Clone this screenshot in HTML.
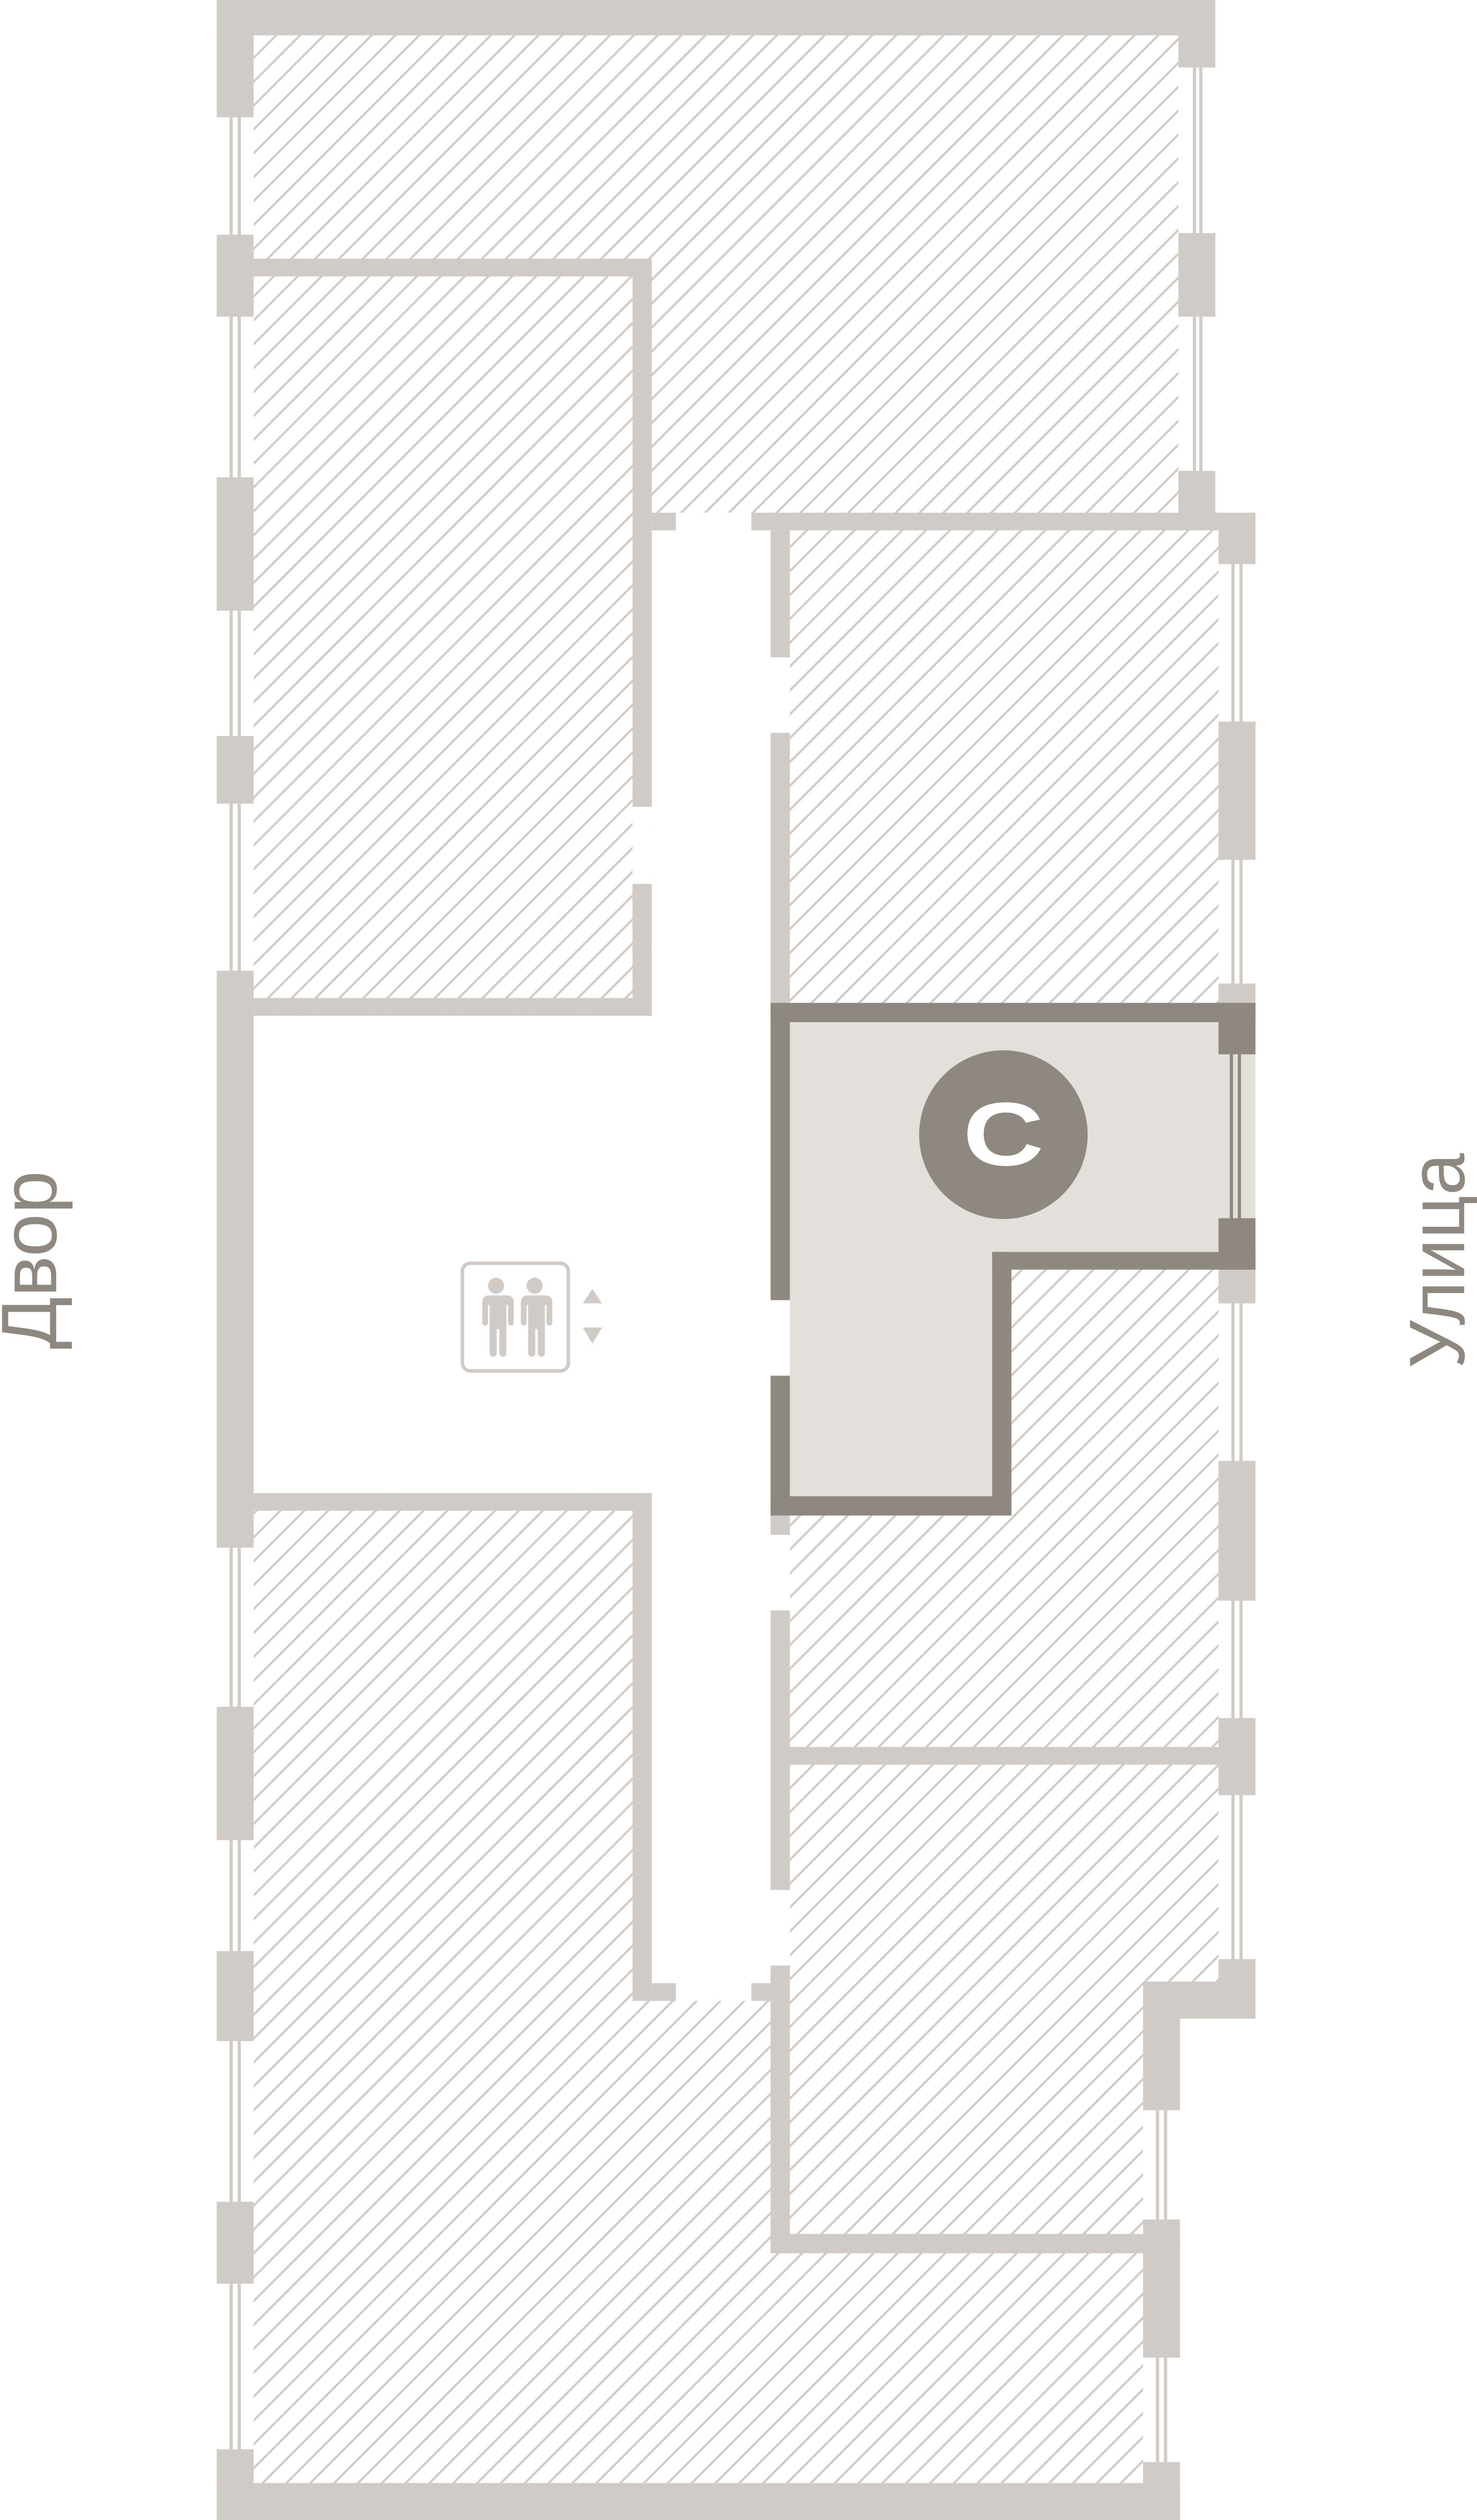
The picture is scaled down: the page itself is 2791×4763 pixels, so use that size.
<!DOCTYPE html>
<html><head><meta charset="utf-8"><style>html,body{margin:0;padding:0;background:#fff}svg{display:block}</style></head>
<body>
<svg xmlns="http://www.w3.org/2000/svg" width="2791" height="4763" viewBox="0 0 920 1568" preserveAspectRatio="none">
<defs>
<pattern id="h" patternUnits="userSpaceOnUse" width="10.5" height="10.5" patternTransform="rotate(45)">
<rect x="0" y="0" width="1.35" height="10.5" fill="#d0cbc6"/>
</pattern>
</defs>
<rect width="920" height="1568" fill="#fff"/>
<!-- hatch areas -->
<rect x="158" y="22" width="576" height="298" fill="url(#h)"/>
<rect x="158" y="320" width="601" height="913" fill="url(#h)"/>
<rect x="158" y="1233" width="554" height="312" fill="url(#h)"/>
<!-- white lobby & corridor -->
<rect x="158" y="632" width="334" height="297" fill="#fff"/>
<rect x="406" y="319" width="86" height="926" fill="#fff"/>
<rect x="421" y="319" width="47" height="11" fill="#fff"/>
<rect x="394" y="502" width="12" height="48" fill="#fff"/>
<!-- highlighted unit fill -->
<path d="M492 624 H782 V790 H630 V943 H492 Z" fill="#e3e0dc"/>
<g fill="#d0cbc6">
<!-- outer top -->
<rect x="135" y="0" width="622" height="22"/>
<rect x="734" y="0" width="23" height="42"/>
<rect x="734" y="145" width="23" height="52"/>
<rect x="734" y="293" width="23" height="27"/>
<rect x="743" y="42" width="2" height="103"/><rect x="747" y="42" width="2" height="103"/>
<rect x="743" y="197" width="2" height="96"/><rect x="747" y="197" width="2" height="96"/>
<!-- left outer piers -->
<rect x="135" y="0" width="23" height="73"/>
<rect x="135" y="146" width="23" height="51"/>
<rect x="135" y="297" width="23" height="83"/>
<rect x="135" y="458" width="23" height="42"/>
<rect x="135" y="604" width="23" height="359"/>
<rect x="135" y="1062" width="23" height="83"/>
<rect x="135" y="1214" width="23" height="56"/>
<rect x="135" y="1370" width="23" height="51"/>
<rect x="135" y="1524" width="23" height="44"/>
<rect x="143" y="0" width="2" height="1568"/><rect x="148" y="0" width="2" height="1568"/>
<!-- bottom -->
<rect x="135" y="1545" width="600" height="23"/>
<!-- upper left room -->
<rect x="158" y="161" width="248" height="11"/>
<rect x="394" y="161" width="12" height="341"/>
<rect x="394" y="550" width="12" height="82"/>
<rect x="158" y="621" width="248" height="11"/>
<rect x="406" y="319" width="15" height="11"/>
<!-- lower left room -->
<rect x="158" y="929" width="248" height="11"/>
<rect x="394" y="929" width="12" height="316"/>
<rect x="406" y="1234" width="15" height="11"/>
<rect x="468" y="1234" width="12" height="11"/>
<!-- right block -->
<rect x="468" y="319" width="314" height="11"/>
<rect x="480" y="330" width="12" height="79"/>
<rect x="480" y="456" width="12" height="168"/>
<rect x="480" y="943" width="12" height="12"/>
<rect x="480" y="1002" width="12" height="174"/>
<rect x="480" y="1223" width="12" height="179"/>
<rect x="492" y="1087" width="290" height="11"/>
<rect x="480" y="1390" width="255" height="12"/>
<!-- right outer -->
<rect x="759" y="319" width="23" height="32"/>
<rect x="759" y="449" width="23" height="86"/>
<rect x="759" y="612" width="23" height="13"/>
<rect x="759" y="790" width="23" height="21"/>
<rect x="759" y="909" width="23" height="87"/>
<rect x="759" y="1069" width="23" height="48"/>
<rect x="759" y="1219" width="23" height="37"/>
<rect x="712" y="1233" width="70" height="23"/>
<rect x="767" y="330" width="2" height="294"/><rect x="772" y="330" width="2" height="294"/>
<rect x="767" y="790" width="2" height="440"/><rect x="772" y="790" width="2" height="440"/>
<rect x="712" y="1233" width="23" height="80"/>
<rect x="712" y="1381" width="23" height="86"/>
<rect x="712" y="1532" width="23" height="36"/>
<rect x="720" y="1256" width="2" height="290"/><rect x="725" y="1256" width="2" height="290"/>
</g>
<!-- highlighted unit walls -->
<g fill="#8e8880">
<rect x="480" y="624" width="302" height="12"/>
<rect x="480" y="624" width="12" height="185"/>
<rect x="480" y="856" width="12" height="87"/>
<rect x="480" y="931" width="150" height="12"/>
<rect x="618" y="779" width="12" height="164"/>
<rect x="618" y="779" width="164" height="11"/>
<rect x="759" y="624" width="23" height="32"/>
<rect x="759" y="758" width="23" height="32"/>
<rect x="766" y="656" width="2" height="102"/><rect x="771" y="656" width="2" height="102"/>
<circle cx="625" cy="706" r="52.5"/>
</g>
<text x="625" y="725" text-anchor="middle" font-family="Liberation Sans, sans-serif" font-weight="bold" font-size="56" fill="#fff" transform="translate(625 0) scale(1.25 1) translate(-625 0)">С</text>
<!-- elevator icon -->
<rect x="288" y="786" width="66" height="67" rx="5" fill="none" stroke="#d0cbc6" stroke-width="2.2"/>
<g fill="#d0cbc6">
<circle cx="309" cy="800" r="5"/>
<path d="M302 806 h14 a4 4 0 0 1 4 4 v13 a1.8 1.8 0 0 1 -3.6 0 v-11 h-1 v30 a2.2 2.2 0 0 1 -4.4 0 v-15 h-1.6 v15 a2.2 2.2 0 0 1 -4.4 0 v-30 h-1 v11 a1.8 1.8 0 0 1 -3.6 0 v-13 a4 4 0 0 1 4 -4 z"/>
<circle cx="333" cy="800" r="5"/>
<path d="M326 806 h14 a4 4 0 0 1 4 4 v13 a1.8 1.8 0 0 1 -3.6 0 v-11 h-1 v30 a2.2 2.2 0 0 1 -4.4 0 v-15 h-1.6 v15 a2.2 2.2 0 0 1 -4.4 0 v-30 h-1 v11 a1.8 1.8 0 0 1 -3.6 0 v-13 a4 4 0 0 1 4 -4 z"/>
<path d="M369 802 L375 811 H363 Z"/>
<path d="M363 826 H375 L369 836 Z"/>
</g>
<!-- labels -->
<text transform="translate(35 784) rotate(-90)" text-anchor="middle" font-family="Liberation Sans, sans-serif" font-size="49" fill="#8e8880" textLength="111" lengthAdjust="spacingAndGlyphs">Двор</text>
<text transform="translate(912 784.5) rotate(-90)" text-anchor="middle" font-family="Liberation Sans, sans-serif" font-size="49" fill="#8e8880" textLength="134" lengthAdjust="spacingAndGlyphs">Улица</text>
</svg>
</body></html>
